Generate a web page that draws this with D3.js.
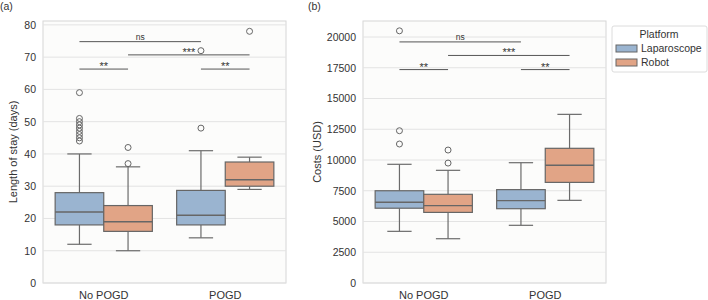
<!DOCTYPE html>
<html>
<head>
<meta charset="utf-8">
<script src="https://cdn.jsdelivr.net/npm/d3@7"></script>
<style>
  body { margin: 0; background: #fff; }
  text { font-family: "Liberation Sans", Arial, sans-serif; fill: #333; }
</style>
</head>
<body>
<svg id="chart" width="708" height="300"></svg>
<script>
// categories and platforms
const groups = ["No POGD", "POGD"];
const platforms = ["Laparoscope", "Robot"];
const colors = ["#9ab4d0", "#e1a486"];

// box stats: [whiskerLow, q1, median, q3, whiskerHigh] per group, per platform
const losStats = {
  "No POGD": { Laparoscope: [12, 18, 22, 28, 40], Robot: [10, 16, 19, 24, 36] },
  "POGD":    { Laparoscope: [14, 18, 21, 28.7, 41], Robot: [29, 30, 32, 37.5, 39] }
};
const losOutliers = {
  "No POGD": { Laparoscope: [44, 45, 46, 47, 48, 49, 50, 51, 59], Robot: [37, 42] },
  "POGD":    { Laparoscope: [48, 72], Robot: [78] }
};
const costStats = {
  "No POGD": { Laparoscope: [4200, 6080, 6560, 7500, 9650], Robot: [3600, 5740, 6290, 7210, 9160] },
  "POGD":    { Laparoscope: [4690, 6040, 6700, 7590, 9780], Robot: [6720, 8180, 9570, 10950, 13710] }
};
const costOutliers = {
  "No POGD": { Laparoscope: [11300, 12380, 20500], Robot: [9750, 10810] },
  "POGD":    { Laparoscope: [], Robot: [] }
};

// significance brackets: [fromGroup, fromPlatform, toGroup, toPlatform, level, label]
const losSig = [
  ["No POGD", "Laparoscope", "POGD", "Laparoscope", 74.8, "ns"],
  ["No POGD", "Robot", "POGD", "Robot", 70.7, "***"],
  ["No POGD", "Laparoscope", "No POGD", "Robot", 66.3, "**"],
  ["POGD", "Laparoscope", "POGD", "Robot", 66.3, "**"]
];
const costSig = [
  ["No POGD", "Laparoscope", "POGD", "Laparoscope", 19600, "ns"],
  ["No POGD", "Robot", "POGD", "Robot", 18500, "***"],
  ["No POGD", "Laparoscope", "No POGD", "Robot", 17350, "**"],
  ["POGD", "Laparoscope", "POGD", "Robot", 17350, "**"]
];

const losTicks = [0, 10, 20, 30, 40, 50, 60, 70, 80];
const costTicks = [0, 2500, 5000, 7500, 10000, 12500, 15000, 17500, 20000];

const svg = d3.select("#chart");

function panel(opts) {
  let left = opts.left, right = opts.left + 243, top = 21, bottom = 283;
  let g = svg.append("g");

  let x = d3.scaleBand().domain(groups).range([left, right]);
  let xs = d3.scaleBand().domain(platforms).range([0, x.bandwidth() * 0.8]);
  let y = d3.scaleLinear().domain(opts.domain).range([bottom, top]);
  let off = x.bandwidth() * 0.1;
  let cx = (grp, p) => x(grp) + off + xs(p) + xs.bandwidth() / 2;

  g.append("rect")
    .attr("x", left).attr("y", top)
    .attr("width", right - left).attr("height", bottom - top)
    .attr("fill", "#fcfcfb").attr("stroke", "#d6d6d6").attr("stroke-width", 1);

  // grid
  g.selectAll(".grid").data(opts.ticks).enter().append("line")
    .attr("x1", left).attr("x2", right)
    .attr("y1", d => y(d)).attr("y2", d => y(d))
    .attr("stroke", "#e3e3e3").attr("stroke-width", 1);

  let yAxis = d3.axisLeft(y).tickValues(opts.ticks).tickFormat(d3.format("d")).tickSize(0).tickPadding(7);
  let ya = g.append("g").attr("transform", `translate(${left},0)`).call(yAxis);
  ya.select(".domain").remove();
  ya.selectAll("text").style("font-size", "10.5px").attr("fill", "#333")
    .style("font-family", '"Liberation Sans", Arial, sans-serif');

  let xAxis = d3.axisBottom(x).tickSize(0).tickPadding(8);
  let xa = g.append("g").attr("transform", `translate(0,${bottom})`).call(xAxis);
  xa.select(".domain").remove();
  xa.selectAll("text").style("font-size", "11px").attr("fill", "#333")
    .style("font-family", '"Liberation Sans", Arial, sans-serif');

  g.append("text")
    .attr("transform", `translate(${opts.labelX},${(top + bottom) / 2}) rotate(-90)`)
    .attr("text-anchor", "middle").attr("dy", "0.35em")
    .style("font-size", "11px").text(opts.label);

  g.append("text").attr("x", opts.tagX).attr("y", 10)
    .style("font-size", "10.5px").text(opts.tag);

  let bw = xs.bandwidth();
  groups.forEach(grp => {
    platforms.forEach((p, i) => {
      let s = opts.stats[grp][p];
      let c = cx(grp, p);
      let bg = g.append("g");
      bg.append("line").attr("x1", c).attr("x2", c)
        .attr("y1", y(s[0])).attr("y2", y(s[1])).attr("stroke", "#6b6b6b").attr("stroke-width", 1.2);
      bg.append("line").attr("x1", c).attr("x2", c)
        .attr("y1", y(s[3])).attr("y2", y(s[4])).attr("stroke", "#6b6b6b").attr("stroke-width", 1.2);
      [s[0], s[4]].forEach(v => {
        bg.append("line").attr("x1", c - bw / 4).attr("x2", c + bw / 4)
          .attr("y1", y(v)).attr("y2", y(v)).attr("stroke", "#6b6b6b").attr("stroke-width", 1.2);
      });
      bg.append("rect")
        .attr("x", c - bw / 2).attr("width", bw)
        .attr("y", y(s[3])).attr("height", y(s[1]) - y(s[3]))
        .attr("fill", colors[i]).attr("stroke", "#666").attr("stroke-width", 1.2);
      bg.append("line").attr("x1", c - bw / 2).attr("x2", c + bw / 2)
        .attr("y1", y(s[2])).attr("y2", y(s[2])).attr("stroke", "#666").attr("stroke-width", 1.4);
      bg.selectAll("circle").data(opts.outliers[grp][p]).enter().append("circle")
        .attr("cx", c).attr("cy", d => y(d)).attr("r", 3)
        .attr("fill", "none").attr("stroke", "#666").attr("stroke-width", 1);
    });
  });

  opts.sig.forEach(d => {
    let x1 = cx(d[0], d[1]), x2 = cx(d[2], d[3]), yy = y(d[4]);
    g.append("line").attr("x1", x1).attr("x2", x2).attr("y1", yy).attr("y2", yy)
      .attr("stroke", "#555").attr("stroke-width", 1);
    let ns = d[5] === "ns";
    g.append("text").attr("x", (x1 + x2) / 2).attr("y", ns ? yy - 2 : yy + 1)
      .attr("text-anchor", "middle")
      .style("font-size", ns ? "8.5px" : "11px").text(d[5]);
  });
}

panel({
  left: 43, domain: [0, 81.2], ticks: losTicks, stats: losStats, outliers: losOutliers,
  sig: losSig, label: "Length of stay (days)", labelX: 13, tag: "(a)", tagX: 0
});
panel({
  left: 363, domain: [0, 21300], ticks: costTicks, stats: costStats, outliers: costOutliers,
  sig: costSig, label: "Costs (USD)", labelX: 317, tag: "(b)", tagX: 308
});

// legend
const lg = svg.append("g").attr("transform", "translate(612,26)");
lg.append("rect").attr("width", 95).attr("height", 46).attr("rx", 2)
  .attr("fill", "#fff").attr("stroke", "#dcdcdc");
lg.append("text").attr("x", 47).attr("y", 12).attr("text-anchor", "middle")
  .style("font-size", "10.5px").text("Platform");
platforms.forEach((p, i) => {
  lg.append("rect").attr("x", 4).attr("y", 19 + i * 14).attr("width", 21).attr("height", 7)
    .attr("fill", colors[i]).attr("stroke", "#666").attr("stroke-width", 1);
  lg.append("text").attr("x", 29).attr("y", 26 + i * 14)
    .style("font-size", "10.5px").text(p);
});
</script>
</body>
</html>
